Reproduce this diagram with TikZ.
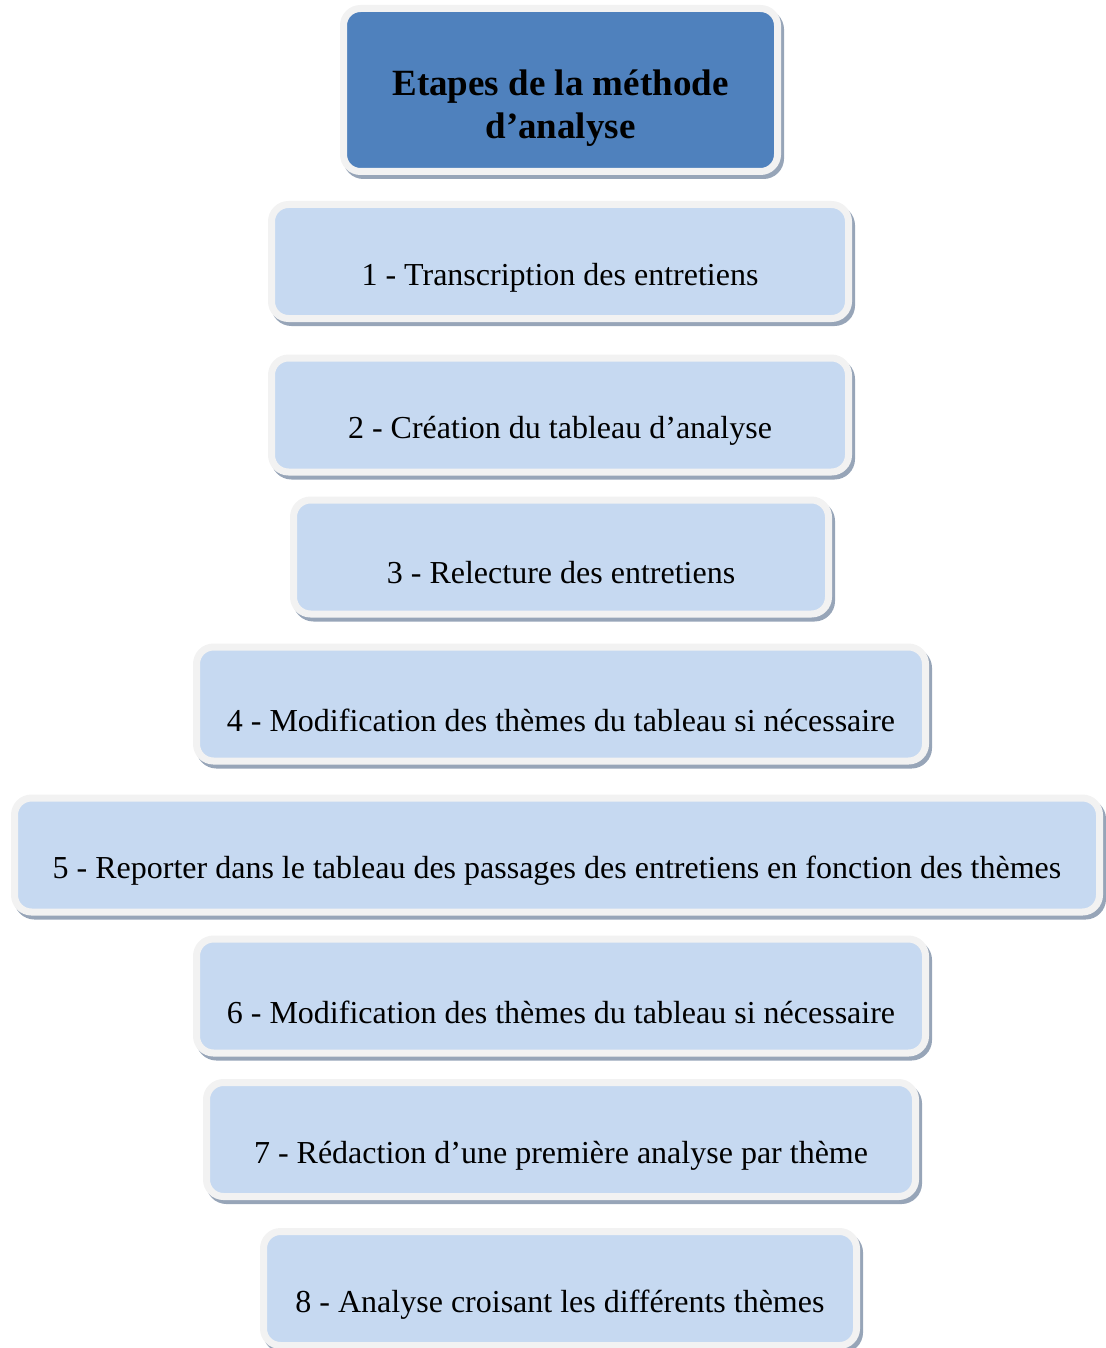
\documentclass[tikz,border=0pt]{standalone}
\usepackage{fontspec}
\setmainfont{Liberation Serif}
\usepackage{tikz}
\usetikzlibrary{shadows}

\definecolor{titleblue}{HTML}{4F81BD}
\definecolor{stepblue}{HTML}{C6D9F1}
\definecolor{rimgray}{HTML}{F2F2F2}
\definecolor{shadegray}{HTML}{97A5B8}

\tikzset{
  bubble/.style={rectangle, rounded corners=8.5pt, draw=rimgray, line width=3.5pt,
    inner sep=0pt, minimum height=57pt,
    drop shadow={shadow xshift=1.5pt, shadow yshift=-2pt, fill=shadegray,
      draw=shadegray, line width=3.5pt, opacity=1}},
  stepbox/.style={bubble, fill=stepblue},
  headbox/.style={bubble, fill=titleblue, minimum height=81.5pt},
  steptext/.style={font=\fontsize{16}{19}\selectfont, yshift=-8pt},
  headtext/.style={font=\fontsize{18.5}{21.5}\selectfont\bfseries, align=center, yshift=-9pt}
}

\begin{document}
\begin{tikzpicture}[x=0.5pt,y=-0.5pt]
  \useasboundingbox (0,0) rectangle (1105,1348);
  % title
  \node[headbox, minimum width=217pt,
    label={[name=thead, headtext]center:Etapes de la méthode\\d’analyse}] (head) at (560.5,90) {};
  % the eight steps: number / x / y / outer width / text
  \foreach \i/\xc/\yc/\w/\txt in {
      1/560/261.5/584/{1 - Transcription des entretiens},
      2/560/415/584/{2 - Création du tableau d’analyse},
      3/561/557/542/{3 - Relecture des entretiens},
      4/561/704/736/{4 - Modification des thèmes du tableau si nécessaire},
      5/557/855/1092/{5 - Reporter dans le tableau des passages des entretiens en fonction des thèmes},
      6/561/996/736/{6 - Modification des thèmes du tableau si nécessaire},
      7/561/1139.5/716/{7 - Rédaction d’une première analyse par thème},
      8/560/1288.5/600/{8 - Analyse croisant les différents thèmes}} {
    \node[stepbox, minimum width={(\w-7)*0.5pt},
      label={[name=t\i, steptext]center:\txt}] (s\i) at (\xc,\yc) {};
  }
\end{tikzpicture}
\end{document}
